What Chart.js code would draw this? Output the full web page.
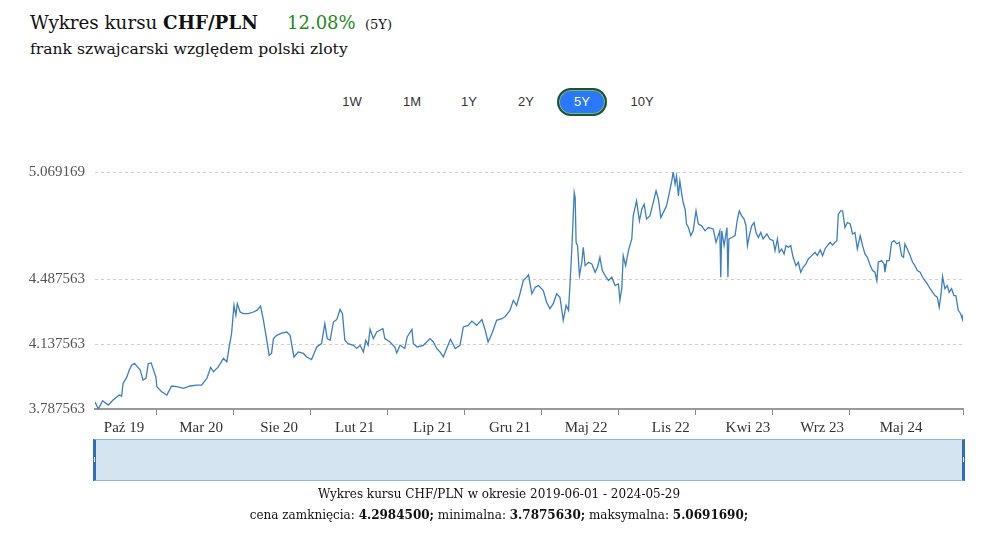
<!DOCTYPE html>
<html>
<head>
<meta charset="utf-8">
<script src="https://cdn.jsdelivr.net/npm/chart.js@4"></script>
<style>
  body { margin: 0; background: #fff; width: 984px; height: 537px; position: relative; overflow: hidden; }
  .serif { font-family: "DejaVu Serif", serif; color: #111; }
  #title { position: absolute; left: 30px; top: 12px; font-size: 18.3px; line-height: 22px; white-space: nowrap; }
  #change { position: absolute; left: 287px; top: 12px; font-size: 18px; line-height: 22px; color: #228b22; }
  #period { position: absolute; left: 365px; top: 16px; font-size: 13px; line-height: 18px; }
  #subtitle { position: absolute; left: 30px; top: 39px; font-size: 15.6px; line-height: 20px; white-space: nowrap; }
  .btn { position: absolute; top: 88px; width: 50px; height: 28px; line-height: 28px; text-align: center;
         font-family: "Liberation Sans", Arial, sans-serif; font-size: 13px; color: #333; }
  .btn.on { background: #2a78ff; color: #fff; border-radius: 14px; box-sizing: border-box;
            border: 2px solid #24502a; box-shadow: inset 0 0 0 1px #6cc46c; line-height: 24px; }
  #wrap { position: absolute; left: 0; top: 140px; width: 984px; height: 300px; }
  #nav { position: absolute; left: 93px; top: 439px; width: 866px; height: 40px; background: #d4e4f1;
         border-top: 1px solid #8db7dc; border-bottom: 1px solid #8db7dc;
         border-left: 3px solid #2f6fb3; border-right: 3px solid #2f6fb3; }
  .grip { position: absolute; top: 17px; width: 1px; height: 5px; background: #e8f0f8; }
  #footer { position: absolute; left: 99px; top: 484px; width: 800px; text-align: center; font-size: 12px; line-height: 21px; }
</style>
</head>
<body>
<div id="title" class="serif">Wykres kursu <b>CHF/PLN</b></div>
<div id="change" class="serif">12.08%</div>
<div id="period" class="serif">(5Y)</div>
<div id="subtitle" class="serif">frank szwajcarski względem polski zloty</div>

<div class="btn" style="left:327px">1W</div>
<div class="btn" style="left:387px">1M</div>
<div class="btn" style="left:444px">1Y</div>
<div class="btn" style="left:501px">2Y</div>
<div class="btn on" style="left:557px">5Y</div>
<div class="btn" style="left:617px">10Y</div>

<div id="wrap"><canvas id="chfChart" width="984" height="300"></canvas></div>
<div id="nav"><div class="grip" style="left:-2px"></div><div class="grip" style="right:-2px"></div></div>

<div id="footer" class="serif">
  Wykres kursu CHF/PLN w okresie 2019-06-01 - 2024-05-29<br>
  cena zamknięcia: <b>4.2984500;</b> minimalna: <b>3.7875630;</b> maksymalna: <b>5.0691690;</b>
</div>

<script>
// days since 2019-06-01
const days = [
  0, 7, 16, 28, 38, 51, 56, 59, 67, 72,
  77, 83, 88, 95, 101, 107, 112, 118, 123, 128,
  130, 140, 151, 161, 172, 186, 200, 214, 224, 235,
  243, 249, 259, 270, 277, 282, 287, 292, 296, 299,
  305, 312, 322, 333, 340, 348, 354, 361, 366, 371,
  375, 382, 392, 403, 410, 418, 427, 438, 445, 455,
  466, 476, 483, 488, 494, 501, 508, 515, 520, 525,
  532, 543, 550, 557, 564, 569, 574, 578, 585, 592,
  605, 609, 620, 630, 634, 641, 651, 656, 666, 669,
  677, 690, 704, 711, 718, 725, 732, 739, 747, 757,
  767, 774, 784, 792, 802, 813, 820, 826, 834, 844,
  855, 862, 872, 879, 886, 893, 900, 907, 911, 918,
  925, 932, 942, 949, 956, 963, 970, 977, 984, 990,
  995, 998, 1002, 1007, 1009, 1011, 1014, 1018, 1023, 1026,
  1030, 1037, 1044, 1051, 1056, 1061, 1066, 1072, 1079, 1086,
  1093, 1100, 1103, 1107, 1110, 1115, 1121, 1124, 1128, 1131,
  1138, 1144, 1149, 1154, 1159, 1166, 1173, 1179, 1184, 1189,
  1196, 1201, 1207, 1212, 1215, 1219, 1222, 1226, 1229, 1233,
  1236, 1240, 1243, 1247, 1252, 1257, 1263, 1268, 1275, 1282,
  1289, 1299, 1305, 1313, 1315, 1317, 1322, 1328, 1330, 1332,
  1338, 1345, 1350, 1354, 1359, 1364, 1368, 1371, 1375, 1380,
  1385, 1389, 1394, 1399, 1404, 1412, 1418, 1425, 1429, 1434,
  1438, 1443, 1448, 1452, 1457, 1462, 1467, 1473, 1478, 1483,
  1488, 1494, 1499, 1506, 1513, 1518, 1524, 1529, 1534, 1539,
  1545, 1550, 1555, 1559, 1562, 1567, 1571, 1576, 1581, 1587,
  1592, 1597, 1602, 1608, 1613, 1618, 1623, 1629, 1634, 1639,
  1643, 1646, 1653, 1658, 1660, 1664, 1669, 1674, 1679, 1685,
  1690, 1695, 1699, 1702, 1707, 1713, 1718, 1723, 1728, 1734,
  1739, 1744, 1749, 1755, 1760, 1765, 1770, 1774, 1778, 1781,
  1786, 1791, 1795, 1800, 1805, 1809, 1814, 1819, 1823, 1824
];

const rates = [
  3.825, 3.787563, 3.832, 3.809, 3.836, 3.863, 3.858, 3.926, 3.961, 3.998,
  4.024, 4.034, 4.019, 3.998, 3.944, 3.953, 4.034, 4.037, 3.998, 3.961,
  3.908, 3.881, 3.863, 3.912, 3.908, 3.899, 3.912, 3.917, 3.917, 3.953,
  4.012, 3.989, 4.015, 4.061, 4.042, 4.123, 4.195, 4.348, 4.294, 4.357,
  4.312, 4.303, 4.303, 4.312, 4.321, 4.344, 4.267, 4.159, 4.078, 4.088,
  4.168, 4.186, 4.198, 4.204, 4.186, 4.069, 4.096, 4.088, 4.069, 4.055,
  4.123, 4.141, 4.249, 4.168, 4.159, 4.258, 4.271, 4.326, 4.303, 4.159,
  4.141, 4.132, 4.115, 4.132, 4.096, 4.159, 4.132, 4.218, 4.168, 4.204,
  4.222, 4.168, 4.150, 4.123, 4.091, 4.132, 4.115, 4.177, 4.218, 4.141,
  4.123, 4.132, 4.168, 4.150, 4.115, 4.096, 4.069, 4.115, 4.165, 4.115,
  4.132, 4.231, 4.240, 4.263, 4.240, 4.271, 4.213, 4.150, 4.195, 4.267,
  4.276, 4.288, 4.321, 4.375, 4.348, 4.411, 4.482, 4.500, 4.513, 4.411,
  4.446, 4.455, 4.428, 4.365, 4.330, 4.357, 4.411, 4.392, 4.267, 4.348,
  4.321, 4.455, 4.653, 4.958, 4.931, 4.689, 4.671, 4.509, 4.581, 4.662,
  4.563, 4.581, 4.572, 4.527, 4.554, 4.608, 4.536, 4.509, 4.482, 4.500,
  4.455, 4.464, 4.375, 4.438, 4.617, 4.563, 4.644, 4.671, 4.707, 4.832,
  4.913, 4.805, 4.868, 4.895, 4.815, 4.832, 4.904, 4.967, 4.922, 4.823,
  4.859, 4.886, 4.958, 5.021, 5.069169, 5.003, 5.048, 4.940, 5.021, 4.949,
  4.904, 4.868, 4.788, 4.769, 4.725, 4.751, 4.859, 4.788, 4.778, 4.751,
  4.769, 4.761, 4.689, 4.751, 4.500, 4.751, 4.671, 4.769, 4.500, 4.707,
  4.715, 4.725, 4.815, 4.859, 4.832, 4.815, 4.778, 4.671, 4.725, 4.778,
  4.796, 4.742, 4.715, 4.742, 4.707, 4.734, 4.707, 4.698, 4.644, 4.707,
  4.635, 4.653, 4.626, 4.671, 4.662, 4.671, 4.608, 4.563, 4.581, 4.527,
  4.554, 4.572, 4.599, 4.617, 4.635, 4.617, 4.648, 4.617, 4.653, 4.671,
  4.689, 4.674, 4.689, 4.698, 4.841, 4.859, 4.859, 4.769, 4.796, 4.788,
  4.734, 4.742, 4.653, 4.725, 4.671, 4.626, 4.608, 4.563, 4.536, 4.527,
  4.482, 4.581, 4.590, 4.572, 4.527, 4.590, 4.590, 4.689, 4.698, 4.680,
  4.689, 4.617, 4.608, 4.680, 4.653, 4.617, 4.581, 4.563, 4.536, 4.527,
  4.500, 4.482, 4.464, 4.438, 4.419, 4.401, 4.392, 4.338, 4.411, 4.504,
  4.438, 4.455, 4.419, 4.438, 4.401, 4.401, 4.321, 4.303, 4.271, 4.2984500
];

const yTicks = [3.787563, 4.137563, 4.487563, 5.069169];

// x axis: tick marks between the month labels
const tickDays = [129, 292, 453, 614, 776, 938, 1100, 1261, 1424, 1586, 1824];
const labelDays = [61, 223, 387, 546, 710, 872, 1032, 1210, 1372, 1528, 1694];
const labelTexts = ['Paź 19', 'Mar 20', 'Sie 20', 'Lut 21', 'Lip 21', 'Gru 21', 'Maj 22', 'Lis 22', 'Kwi 23', 'Wrz 23', 'Maj 24'];

const points = days.map((d, i) => ({ x: d, y: rates[i] }));
const axisFont = { family: '"Liberation Serif", serif', size: 15 };

new Chart(document.getElementById('chfChart'), {
  type: 'line',
  data: {
    datasets: [{
      data: points,
      borderColor: '#3b7ec2',
      borderWidth: 1.3,
      pointRadius: 0,
      tension: 0,
      fill: false
    }]
  },
  options: {
    responsive: false,
    animation: false,
    layout: { padding: { top: 32, right: 21, left: 0, bottom: 0 } },
    plugins: { legend: { display: false }, tooltip: { enabled: false } },
    scales: {
      x: {
        type: 'linear',
        min: 0,
        max: 1824,
        afterFit: s => { s.height = 31; },
        afterBuildTicks: s => {
          s.ticks = tickDays.concat(labelDays).sort((a, b) => a - b).map(v => ({ value: v }));
        },
        ticks: {
          autoSkip: false,
          maxRotation: 0,
          padding: 4,
          color: '#333',
          font: axisFont,
          callback: v => {
            const i = labelDays.indexOf(v);
            return i >= 0 ? labelTexts[i] : '';
          }
        },
        grid: {
          drawOnChartArea: false,
          drawTicks: true,
          tickLength: 6,
          tickWidth: 1,
          tickColor: c => (c.tick && tickDays.includes(c.tick.value)) ? '#888' : 'rgba(0,0,0,0)'
        },
        border: { display: true, color: '#999', width: 2 }
      },
      y: {
        min: 3.787563,
        max: 5.069169,
        afterFit: s => { s.width = 95; },
        afterBuildTicks: s => { s.ticks = yTicks.map(v => ({ value: v })); },
        ticks: {
          padding: 10,
          color: '#555',
          font: axisFont,
          callback: v => v.toFixed(6)
        },
        grid: { color: '#cfcfcf', drawTicks: false, lineWidth: 1 },
        border: { display: false, dash: [3, 3] }
      }
    }
  }
});
</script>
</body>
</html>
